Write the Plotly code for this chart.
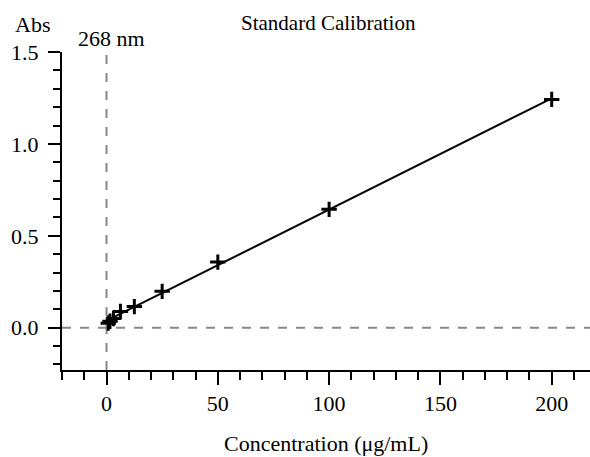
import numpy as np
import plotly.graph_objects as go

conc = [0.78125, 1.5625, 3.125, 6.25, 12.5, 25, 50, 100, 200]
absorb = [0.025, 0.035, 0.05, 0.088, 0.115, 0.198, 0.357, 0.644, 1.242]
wavelength_label = "268 nm"
x_major = [0, 50, 100, 150, 200]
x_minor = [-20, -10, 10, 20, 30, 40, 60, 70, 80, 90, 110, 120, 130, 140,
           160, 170, 180, 190, 210]
y_major = [0.0, 0.5, 1.0, 1.5]
y_major_text = ["0.0", "0.5", "1.0", "1.5"]
y_minor = [-0.2, -0.1, 0.1, 0.2, 0.3, 0.4, 0.6, 0.7, 0.8, 0.9,
           1.1, 1.2, 1.3, 1.4]

slope, intercept = np.polyfit(conc, absorb, 1)
fit_x = [min(conc), max(conc)]
fit_y = [slope * v + intercept for v in fit_x]

FONT = "Liberation Serif, Times New Roman, serif"
F22 = dict(family=FONT, size=22, color="black")
F21 = dict(family=FONT, size=21, color="black")

T, B, L = 52, 87, 62
H = 457 - T - B
W = 590 - L
YR = [-0.230, 1.5]

fig = go.Figure()
fig.add_trace(go.Scatter(x=fit_x, y=fit_y, mode="lines",
                         line=dict(color="black", width=2), showlegend=False))
fig.add_trace(go.Scatter(x=conc, y=absorb, mode="markers",
                         marker=dict(symbol="cross-thin", size=11,
                                     line=dict(color="black", width=3)),
                         showlegend=False))
# invisible trace to anchor the minor-tick overlay axis
fig.add_trace(go.Scatter(x=[conc[0]], y=[absorb[0]], yaxis="y2", mode="markers",
                         marker=dict(opacity=0), showlegend=False,
                         hoverinfo="skip"))

fig.add_shape(type="line", xref="x", yref="paper", x0=0, x1=0, y0=0, y1=1,
              line=dict(color="#888888", width=2, dash="dash"), layer="below")
fig.add_shape(type="line", xref="paper", yref="y", x0=0, x1=1, y0=0, y1=0,
              line=dict(color="#888888", width=2, dash="dash"), layer="below")

fig.update_layout(
    width=590, height=457,
    margin=dict(l=L, r=0, t=T, b=B),
    plot_bgcolor="white", paper_bgcolor="white",
    font=F22,
    xaxis=dict(range=[-20, 217.2], tickmode="array", tickvals=x_major,
               tickfont=F22, ticklabelstandoff=0,
               ticks="outside", ticklen=13, tickwidth=2, tickcolor="black",
               minor=dict(tickmode="array", tickvals=x_minor, ticks="outside",
                          ticklen=8, tickwidth=2, tickcolor="black",
                          showgrid=False),
               showline=True, linewidth=2, linecolor="black",
               showgrid=False, zeroline=False),
    yaxis=dict(range=YR, tickmode="array", tickvals=y_major,
               ticktext=y_major_text, tickfont=F22,
               ticklabelstandoff=5,
               ticks="outside", ticklen=12, tickwidth=2, tickcolor="black",
               showline=True, linewidth=2, linecolor="black",
               showgrid=False, zeroline=False),
    yaxis2=dict(range=YR, overlaying="y", side="left", anchor="x",
                tickmode="array", tickvals=y_minor, showticklabels=False,
                ticks="outside", ticklen=8, tickwidth=2, tickcolor="black",
                showline=False, showgrid=False, zeroline=False),
    annotations=[
        dict(text="Standard Calibration", xref="paper", yref="paper",
             x=(328 - L) / W, y=1 + (T - 23) / H, showarrow=False,
             xanchor="center", yanchor="middle", font=F21),
        dict(text="Abs", xref="paper", yref="paper",
             x=(13 - L) / W, y=1 + (T - 25) / H, showarrow=False,
             xanchor="left", yanchor="middle", font=F22),
        dict(text=wavelength_label, xref="x", yref="paper",
             x=0, y=1 + (T - 39) / H, showarrow=False,
             xanchor="center", yanchor="middle", xshift=5, font=F22),
        dict(text="Concentration (μg/mL)", xref="paper", yref="paper",
             x=(326 - L) / W, y=-(443 - T - H) / H, showarrow=False,
             xanchor="center", yanchor="middle", font=F22),
    ],
)

fig.write_html("out.html")
